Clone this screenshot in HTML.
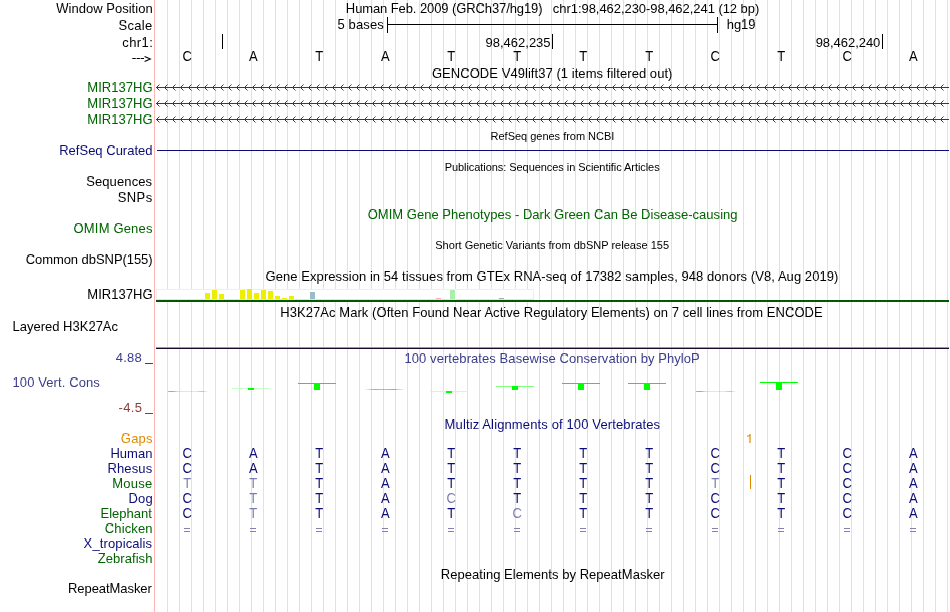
<!DOCTYPE html>
<html><head><meta charset="utf-8"><style>html,body{margin:0;padding:0;background:#fff;width:950px;height:612px;overflow:hidden}text{font-family:"Liberation Sans", sans-serif}</style></head>
<body><svg width="950" height="612" viewBox="0 0 950 612" style="display:block;will-change:transform;font-family:&quot;Liberation Sans&quot;, sans-serif"><rect x="0" y="0" width="950" height="612" fill="#fff"/>
<path d="M167.5 0V612 M179.5 0V612 M191.5 0V612 M203.5 0V612 M215.5 0V612 M227.5 0V612 M239.5 0V612 M251.5 0V612 M263.5 0V612 M275.5 0V612 M287.5 0V612 M299.5 0V612 M311.5 0V612 M323.5 0V612 M335.5 0V612 M347.5 0V612 M359.5 0V612 M371.5 0V612 M383.5 0V612 M395.5 0V612 M407.5 0V612 M419.5 0V612 M431.5 0V612 M443.5 0V612 M455.5 0V612 M467.5 0V612 M479.5 0V612 M491.5 0V612 M503.5 0V612 M515.5 0V612 M527.5 0V612 M539.5 0V612 M551.5 0V612 M563.5 0V612 M575.5 0V612 M587.5 0V612 M599.5 0V612 M611.5 0V612 M623.5 0V612 M635.5 0V612 M647.5 0V612 M659.5 0V612 M671.5 0V612 M683.5 0V612 M695.5 0V612 M707.5 0V612 M719.5 0V612 M731.5 0V612 M743.5 0V612 M755.5 0V612 M767.5 0V612 M779.5 0V612 M791.5 0V612 M803.5 0V612 M815.5 0V612 M827.5 0V612 M839.5 0V612 M851.5 0V612 M863.5 0V612 M875.5 0V612 M887.5 0V612 M899.5 0V612 M911.5 0V612 M923.5 0V612 M935.5 0V612 M947.5 0V612" stroke="#DDDDFF" stroke-width="1" fill="none"/>
<rect x="154" y="0" width="1" height="612" fill="#FFB4B4"/>
<clipPath id="lowinpos"><rect x="0" y="5" width="950" height="14"/></clipPath>
<clipPath id="hiwinpos"><rect x="0" y="-2" width="950" height="7"/></clipPath>
<g clip-path="url(#lowinpos)"><text x="56.31" y="13" font-size="13" fill="#000" textLength="96.33" lengthAdjust="spacing">Window Position</text></g>
<g clip-path="url(#hiwinpos)"><text x="56.31" y="13" font-size="13" fill="#000" textLength="96.33" lengthAdjust="spacing" transform="translate(0 -1)">Window Position</text></g>
<clipPath id="loscale"><rect x="0" y="22" width="950" height="14"/></clipPath>
<clipPath id="hiscale"><rect x="0" y="15" width="950" height="7"/></clipPath>
<g clip-path="url(#loscale)"><text x="118.43" y="30" font-size="13" fill="#000" textLength="33.86" lengthAdjust="spacing">Scale</text></g>
<g clip-path="url(#hiscale)"><text x="118.43" y="30" font-size="13" fill="#000" textLength="33.86" lengthAdjust="spacing" transform="translate(0 -1)">Scale</text></g>
<clipPath id="lochr1"><rect x="0" y="39" width="950" height="14"/></clipPath>
<clipPath id="hichr1"><rect x="0" y="32" width="950" height="7"/></clipPath>
<g clip-path="url(#lochr1)"><text x="122.36" y="47" font-size="13" fill="#000" textLength="30.44" lengthAdjust="spacing">chr1:</text></g>
<g clip-path="url(#hichr1)"><text x="122.36" y="47" font-size="13" fill="#000" textLength="30.44" lengthAdjust="spacing" transform="translate(0 -1)">chr1:</text></g>
<clipPath id="lomir1"><rect x="0" y="84" width="950" height="14"/></clipPath>
<clipPath id="himir1"><rect x="0" y="77" width="950" height="7"/></clipPath>
<g clip-path="url(#lomir1)"><text x="87.35" y="92" font-size="13" fill="#006400" textLength="65.20" lengthAdjust="spacing">MIR137HG</text></g>
<g clip-path="url(#himir1)"><text x="87.35" y="92" font-size="13" fill="#006400" textLength="65.20" lengthAdjust="spacing" transform="translate(0 -1)">MIR137HG</text></g>
<clipPath id="lomir2"><rect x="0" y="100" width="950" height="14"/></clipPath>
<clipPath id="himir2"><rect x="0" y="93" width="950" height="7"/></clipPath>
<g clip-path="url(#lomir2)"><text x="87.35" y="108" font-size="13" fill="#006400" textLength="65.20" lengthAdjust="spacing">MIR137HG</text></g>
<g clip-path="url(#himir2)"><text x="87.35" y="108" font-size="13" fill="#006400" textLength="65.20" lengthAdjust="spacing" transform="translate(0 -1)">MIR137HG</text></g>
<clipPath id="lomir3"><rect x="0" y="116" width="950" height="14"/></clipPath>
<clipPath id="himir3"><rect x="0" y="109" width="950" height="7"/></clipPath>
<g clip-path="url(#lomir3)"><text x="87.35" y="124" font-size="13" fill="#006400" textLength="65.20" lengthAdjust="spacing">MIR137HG</text></g>
<g clip-path="url(#himir3)"><text x="87.35" y="124" font-size="13" fill="#006400" textLength="65.20" lengthAdjust="spacing" transform="translate(0 -1)">MIR137HG</text></g>
<clipPath id="lorefcur"><rect x="0" y="147" width="950" height="14"/></clipPath>
<clipPath id="hirefcur"><rect x="0" y="140" width="950" height="7"/></clipPath>
<g clip-path="url(#lorefcur)"><text x="59.19" y="155" font-size="13" fill="#0C0C78" textLength="93.36" lengthAdjust="spacing">RefSeq Curated</text></g>
<g clip-path="url(#hirefcur)"><text x="59.19" y="155" font-size="13" fill="#0C0C78" textLength="93.36" lengthAdjust="spacing" transform="translate(0 -1)">RefSeq Curated</text></g>
<clipPath id="loseqs"><rect x="0" y="178" width="950" height="14"/></clipPath>
<clipPath id="hiseqs"><rect x="0" y="171" width="950" height="7"/></clipPath>
<g clip-path="url(#loseqs)"><text x="86.13" y="186" font-size="13" fill="#000" textLength="65.95" lengthAdjust="spacing">Sequences</text></g>
<g clip-path="url(#hiseqs)"><text x="86.13" y="186" font-size="13" fill="#000" textLength="65.95" lengthAdjust="spacing" transform="translate(0 -1)">Sequences</text></g>
<clipPath id="losnps"><rect x="0" y="194" width="950" height="14"/></clipPath>
<clipPath id="hisnps"><rect x="0" y="187" width="950" height="7"/></clipPath>
<g clip-path="url(#losnps)"><text x="117.72" y="202" font-size="13" fill="#000" textLength="34.42" lengthAdjust="spacing">SNPs</text></g>
<g clip-path="url(#hisnps)"><text x="117.72" y="202" font-size="13" fill="#000" textLength="34.42" lengthAdjust="spacing" transform="translate(0 -1)">SNPs</text></g>
<clipPath id="loomimg"><rect x="0" y="225" width="950" height="14"/></clipPath>
<clipPath id="hiomimg"><rect x="0" y="218" width="950" height="7"/></clipPath>
<g clip-path="url(#loomimg)"><text x="73.58" y="233" font-size="13" fill="#006400" textLength="78.80" lengthAdjust="spacing">OMIM Genes</text></g>
<g clip-path="url(#hiomimg)"><text x="73.58" y="233" font-size="13" fill="#006400" textLength="78.80" lengthAdjust="spacing" transform="translate(0 -1)">OMIM Genes</text></g>
<clipPath id="lodbsnp"><rect x="0" y="256" width="950" height="14"/></clipPath>
<clipPath id="hidbsnp"><rect x="0" y="249" width="950" height="7"/></clipPath>
<g clip-path="url(#lodbsnp)"><text x="25.63" y="264" font-size="13" fill="#000" textLength="127.00" lengthAdjust="spacing">Common dbSNP(155)</text></g>
<g clip-path="url(#hidbsnp)"><text x="25.63" y="264" font-size="13" fill="#000" textLength="127.00" lengthAdjust="spacing" transform="translate(0 -1)">Common dbSNP(155)</text></g>
<clipPath id="lomirblk"><rect x="0" y="291" width="950" height="14"/></clipPath>
<clipPath id="himirblk"><rect x="0" y="284" width="950" height="7"/></clipPath>
<g clip-path="url(#lomirblk)"><text x="87.30" y="299" font-size="13" fill="#000" textLength="65.33" lengthAdjust="spacing">MIR137HG</text></g>
<g clip-path="url(#himirblk)"><text x="87.30" y="299" font-size="13" fill="#000" textLength="65.33" lengthAdjust="spacing" transform="translate(0 -1)">MIR137HG</text></g>
<clipPath id="lolayered"><rect x="0" y="323" width="950" height="14"/></clipPath>
<clipPath id="hilayered"><rect x="0" y="316" width="950" height="7"/></clipPath>
<g clip-path="url(#lolayered)"><text x="12.47" y="331" font-size="13" fill="#000" textLength="105.57" lengthAdjust="spacing">Layered H3K27Ac</text></g>
<g clip-path="url(#hilayered)"><text x="12.47" y="331" font-size="13" fill="#000" textLength="105.57" lengthAdjust="spacing" transform="translate(0 -1)">Layered H3K27Ac</text></g>
<text x="115.69" y="362" font-size="13" fill="#3C3C8C" textLength="26.06" lengthAdjust="spacing">4.88</text>
<clipPath id="lovcons"><rect x="0" y="379" width="950" height="14"/></clipPath>
<clipPath id="hivcons"><rect x="0" y="372" width="950" height="7"/></clipPath>
<g clip-path="url(#lovcons)"><text x="12.47" y="387" font-size="13" fill="#3C3C8C" textLength="87.35" lengthAdjust="spacing">100 Vert. Cons</text></g>
<g clip-path="url(#hivcons)"><text x="12.47" y="387" font-size="13" fill="#3C3C8C" textLength="87.35" lengthAdjust="spacing" transform="translate(0 -1)">100 Vert. Cons</text></g>
<text x="118.49" y="412" font-size="13" fill="#8C3C3C" textLength="23.54" lengthAdjust="spacing">-4.5</text>
<clipPath id="logaps"><rect x="0" y="435" width="950" height="14"/></clipPath>
<clipPath id="higaps"><rect x="0" y="428" width="950" height="7"/></clipPath>
<g clip-path="url(#logaps)"><text x="120.76" y="443" font-size="13" fill="#E08A00" textLength="31.82" lengthAdjust="spacing">Gaps</text></g>
<g clip-path="url(#higaps)"><text x="120.76" y="443" font-size="13" fill="#E08A00" textLength="31.82" lengthAdjust="spacing" transform="translate(0 -1)">Gaps</text></g>
<clipPath id="lohuman"><rect x="0" y="450" width="950" height="14"/></clipPath>
<clipPath id="hihuman"><rect x="0" y="443" width="950" height="7"/></clipPath>
<g clip-path="url(#lohuman)"><text x="110.42" y="458" font-size="13" fill="#0C0C78" textLength="42.07" lengthAdjust="spacing">Human</text></g>
<g clip-path="url(#hihuman)"><text x="110.42" y="458" font-size="13" fill="#0C0C78" textLength="42.07" lengthAdjust="spacing" transform="translate(0 -1)">Human</text></g>
<clipPath id="lorhesus"><rect x="0" y="465" width="950" height="14"/></clipPath>
<clipPath id="hirhesus"><rect x="0" y="458" width="950" height="7"/></clipPath>
<g clip-path="url(#lorhesus)"><text x="107.47" y="473" font-size="13" fill="#0C0C78" textLength="44.71" lengthAdjust="spacing">Rhesus</text></g>
<g clip-path="url(#hirhesus)"><text x="107.47" y="473" font-size="13" fill="#0C0C78" textLength="44.71" lengthAdjust="spacing" transform="translate(0 -1)">Rhesus</text></g>
<clipPath id="lomouse"><rect x="0" y="480" width="950" height="14"/></clipPath>
<clipPath id="himouse"><rect x="0" y="473" width="950" height="7"/></clipPath>
<g clip-path="url(#lomouse)"><text x="112.17" y="488" font-size="13" fill="#006400" textLength="39.97" lengthAdjust="spacing">Mouse</text></g>
<g clip-path="url(#himouse)"><text x="112.17" y="488" font-size="13" fill="#006400" textLength="39.97" lengthAdjust="spacing" transform="translate(0 -1)">Mouse</text></g>
<clipPath id="lodog"><rect x="0" y="495" width="950" height="14"/></clipPath>
<clipPath id="hidog"><rect x="0" y="488" width="950" height="7"/></clipPath>
<g clip-path="url(#lodog)"><text x="128.47" y="503" font-size="13" fill="#0C0C78" textLength="24.16" lengthAdjust="spacing">Dog</text></g>
<g clip-path="url(#hidog)"><text x="128.47" y="503" font-size="13" fill="#0C0C78" textLength="24.16" lengthAdjust="spacing" transform="translate(0 -1)">Dog</text></g>
<clipPath id="loeleph"><rect x="0" y="510" width="950" height="14"/></clipPath>
<clipPath id="hieleph"><rect x="0" y="503" width="950" height="7"/></clipPath>
<g clip-path="url(#loeleph)"><text x="100.44" y="518" font-size="13" fill="#006400" textLength="51.48" lengthAdjust="spacing">Elephant</text></g>
<g clip-path="url(#hieleph)"><text x="100.44" y="518" font-size="13" fill="#006400" textLength="51.48" lengthAdjust="spacing" transform="translate(0 -1)">Elephant</text></g>
<clipPath id="lochick"><rect x="0" y="525" width="950" height="14"/></clipPath>
<clipPath id="hichick"><rect x="0" y="518" width="950" height="7"/></clipPath>
<g clip-path="url(#lochick)"><text x="104.76" y="533" font-size="13" fill="#006400" textLength="47.80" lengthAdjust="spacing">Chicken</text></g>
<g clip-path="url(#hichick)"><text x="104.76" y="533" font-size="13" fill="#006400" textLength="47.80" lengthAdjust="spacing" transform="translate(0 -1)">Chicken</text></g>
<clipPath id="loxtrop"><rect x="0" y="540" width="950" height="14"/></clipPath>
<clipPath id="hixtrop"><rect x="0" y="533" width="950" height="7"/></clipPath>
<g clip-path="url(#loxtrop)"><text x="83.62" y="548" font-size="13" fill="#0C0C78" textLength="68.49" lengthAdjust="spacing">X_tropicalis</text></g>
<g clip-path="url(#hixtrop)"><text x="83.62" y="548" font-size="13" fill="#0C0C78" textLength="68.49" lengthAdjust="spacing" transform="translate(0 -1)">X_tropicalis</text></g>
<clipPath id="lozebra"><rect x="0" y="555" width="950" height="14"/></clipPath>
<clipPath id="hizebra"><rect x="0" y="548" width="950" height="7"/></clipPath>
<g clip-path="url(#lozebra)"><text x="97.69" y="563" font-size="13" fill="#006400" textLength="54.71" lengthAdjust="spacing">Zebrafish</text></g>
<g clip-path="url(#hizebra)"><text x="97.69" y="563" font-size="13" fill="#006400" textLength="54.71" lengthAdjust="spacing" transform="translate(0 -1)">Zebrafish</text></g>
<clipPath id="lorepm"><rect x="0" y="585" width="950" height="14"/></clipPath>
<clipPath id="hirepm"><rect x="0" y="578" width="950" height="7"/></clipPath>
<g clip-path="url(#lorepm)"><text x="68.03" y="593" font-size="13" fill="#000" textLength="83.78" lengthAdjust="spacing">RepeatMasker</text></g>
<g clip-path="url(#hirepm)"><text x="68.03" y="593" font-size="13" fill="#000" textLength="83.78" lengthAdjust="spacing" transform="translate(0 -1)">RepeatMasker</text></g>
<clipPath id="lohdr1"><rect x="0" y="5" width="950" height="14"/></clipPath>
<clipPath id="hihdr1"><rect x="0" y="-2" width="950" height="7"/></clipPath>
<g clip-path="url(#lohdr1)"><text x="345.84" y="13" font-size="13" fill="#000" textLength="196.70" lengthAdjust="spacing">Human Feb. 2009 (GRCh37/hg19)</text></g>
<g clip-path="url(#hihdr1)"><text x="345.84" y="13" font-size="13" fill="#000" textLength="196.70" lengthAdjust="spacing" transform="translate(0 -1)">Human Feb. 2009 (GRCh37/hg19)</text></g>
<text x="552.82" y="13" font-size="13" fill="#000" textLength="206.46" lengthAdjust="spacing">chr1:98,462,230-98,462,241 (12 bp)</text>
<clipPath id="lobases5"><rect x="0" y="21" width="950" height="14"/></clipPath>
<clipPath id="hibases5"><rect x="0" y="14" width="950" height="7"/></clipPath>
<g clip-path="url(#lobases5)"><text x="337.41" y="29" font-size="13" fill="#000" textLength="46.40" lengthAdjust="spacing">5 bases</text></g>
<g clip-path="url(#hibases5)"><text x="337.41" y="29" font-size="13" fill="#000" textLength="46.40" lengthAdjust="spacing" transform="translate(0 -1)">5 bases</text></g>
<clipPath id="lohg19"><rect x="0" y="21" width="950" height="14"/></clipPath>
<clipPath id="hihg19"><rect x="0" y="14" width="950" height="7"/></clipPath>
<g clip-path="url(#lohg19)"><text x="726.80" y="29" font-size="13" fill="#000" textLength="28.72" lengthAdjust="spacing">hg19</text></g>
<g clip-path="url(#hihg19)"><text x="726.80" y="29" font-size="13" fill="#000" textLength="28.72" lengthAdjust="spacing" transform="translate(0 -1)">hg19</text></g>
<text x="485.55" y="47" font-size="13" fill="#000" textLength="65.01" lengthAdjust="spacing">98,462,235</text>
<text x="815.67" y="47" font-size="13" fill="#000" textLength="64.67" lengthAdjust="spacing">98,462,240</text>
<clipPath id="logencode"><rect x="0" y="70" width="950" height="14"/></clipPath>
<clipPath id="higencode"><rect x="0" y="63" width="950" height="7"/></clipPath>
<g clip-path="url(#logencode)"><text x="431.89" y="78" font-size="13" fill="#000" textLength="240.56" lengthAdjust="spacing">GENCODE V49lift37 (1 items filtered out)</text></g>
<g clip-path="url(#higencode)"><text x="431.89" y="78" font-size="13" fill="#000" textLength="240.56" lengthAdjust="spacing" transform="translate(0 -1)">GENCODE V49lift37 (1 items filtered out)</text></g>
<text x="490.55" y="140" font-size="11" fill="#000" textLength="123.82" lengthAdjust="spacing">RefSeq genes from NCBI</text>
<text x="444.66" y="171" font-size="11" fill="#000" textLength="215.02" lengthAdjust="spacing">Publications: Sequences in Scientific Articles</text>
<clipPath id="loomim"><rect x="0" y="211" width="950" height="14"/></clipPath>
<clipPath id="hiomim"><rect x="0" y="204" width="950" height="7"/></clipPath>
<g clip-path="url(#loomim)"><text x="367.65" y="219" font-size="13" fill="#006400" textLength="369.88" lengthAdjust="spacing">OMIM Gene Phenotypes - Dark Green Can Be Disease-causing</text></g>
<g clip-path="url(#hiomim)"><text x="367.65" y="219" font-size="13" fill="#006400" textLength="369.88" lengthAdjust="spacing" transform="translate(0 -1)">OMIM Gene Phenotypes - Dark Green Can Be Disease-causing</text></g>
<text x="435.27" y="249" font-size="11" fill="#000" textLength="233.79" lengthAdjust="spacing">Short Genetic Variants from dbSNP release 155</text>
<clipPath id="logtex"><rect x="0" y="273" width="950" height="14"/></clipPath>
<clipPath id="higtex"><rect x="0" y="266" width="950" height="7"/></clipPath>
<g clip-path="url(#logtex)"><text x="265.60" y="281" font-size="13" fill="#000" textLength="572.76" lengthAdjust="spacing">Gene Expression in 54 tissues from GTEx RNA-seq of 17382 samples, 948 donors (V8, Aug 2019)</text></g>
<g clip-path="url(#higtex)"><text x="265.60" y="281" font-size="13" fill="#000" textLength="572.76" lengthAdjust="spacing" transform="translate(0 -1)">Gene Expression in 54 tissues from GTEx RNA-seq of 17382 samples, 948 donors (V8, Aug 2019)</text></g>
<clipPath id="loh3k"><rect x="0" y="309" width="950" height="14"/></clipPath>
<clipPath id="hih3k"><rect x="0" y="302" width="950" height="7"/></clipPath>
<g clip-path="url(#loh3k)"><text x="280.30" y="317" font-size="13" fill="#000" textLength="542.37" lengthAdjust="spacing">H3K27Ac Mark (Often Found Near Active Regulatory Elements) on 7 cell lines from ENCODE</text></g>
<g clip-path="url(#hih3k)"><text x="280.30" y="317" font-size="13" fill="#000" textLength="542.37" lengthAdjust="spacing" transform="translate(0 -1)">H3K27Ac Mark (Often Found Near Active Regulatory Elements) on 7 cell lines from ENCODE</text></g>
<clipPath id="lophylop"><rect x="0" y="355" width="950" height="14"/></clipPath>
<clipPath id="hiphylop"><rect x="0" y="348" width="950" height="7"/></clipPath>
<g clip-path="url(#lophylop)"><text x="404.47" y="363" font-size="13" fill="#3C3C8C" textLength="295.27" lengthAdjust="spacing">100 vertebrates Basewise Conservation by PhyloP</text></g>
<g clip-path="url(#hiphylop)"><text x="404.47" y="363" font-size="13" fill="#3C3C8C" textLength="295.27" lengthAdjust="spacing" transform="translate(0 -1)">100 vertebrates Basewise Conservation by PhyloP</text></g>
<clipPath id="lomultiz"><rect x="0" y="421" width="950" height="14"/></clipPath>
<clipPath id="himultiz"><rect x="0" y="414" width="950" height="7"/></clipPath>
<g clip-path="url(#lomultiz)"><text x="444.58" y="429" font-size="13" fill="#0C0C78" textLength="215.53" lengthAdjust="spacing">Multiz Alignments of 100 Vertebrates</text></g>
<g clip-path="url(#himultiz)"><text x="444.58" y="429" font-size="13" fill="#0C0C78" textLength="215.53" lengthAdjust="spacing" transform="translate(0 -1)">Multiz Alignments of 100 Vertebrates</text></g>
<clipPath id="lormsk"><rect x="0" y="571" width="950" height="14"/></clipPath>
<clipPath id="hirmsk"><rect x="0" y="564" width="950" height="7"/></clipPath>
<g clip-path="url(#lormsk)"><text x="440.84" y="579" font-size="13" fill="#000" textLength="223.74" lengthAdjust="spacing">Repeating Elements by RepeatMasker</text></g>
<g clip-path="url(#hirmsk)"><text x="440.84" y="579" font-size="13" fill="#000" textLength="223.74" lengthAdjust="spacing" transform="translate(0 -1)">Repeating Elements by RepeatMasker</text></g>
<path d="M132.3 58.5H135.8M136.6 58.5H139.9M140.7 58.5H144" stroke="#000" stroke-width="1" fill="none"/>
<path d="M144.6 56.4L150.3 58.9L144.6 61.4" stroke="#000" stroke-width="1.1" fill="none"/>
<rect x="145" y="363" width="8" height="1" fill="#3C3C8C"/>
<rect x="145" y="413" width="8" height="1" fill="#8C3C3C"/>
<path d="M387.5 17V33M717.5 17V33M387 24.5H718" stroke="#000" stroke-width="1" fill="none"/>
<path d="M222.5 34V49M552.5 34V49M882.5 34V49" stroke="#000" stroke-width="1" fill="none"/>
<text transform="translate(187.30 61) scale(1 1.11)" x="0" y="0" font-size="13" fill="#000" text-anchor="middle">C</text>
<text transform="translate(253.30 61) scale(1 1.11)" x="0" y="0" font-size="13" fill="#000" text-anchor="middle">A</text>
<text transform="translate(319.30 61) scale(1 1.11)" x="0" y="0" font-size="13" fill="#000" text-anchor="middle">T</text>
<text transform="translate(385.30 61) scale(1 1.11)" x="0" y="0" font-size="13" fill="#000" text-anchor="middle">A</text>
<text transform="translate(451.30 61) scale(1 1.11)" x="0" y="0" font-size="13" fill="#000" text-anchor="middle">T</text>
<text transform="translate(517.30 61) scale(1 1.11)" x="0" y="0" font-size="13" fill="#000" text-anchor="middle">T</text>
<text transform="translate(583.30 61) scale(1 1.11)" x="0" y="0" font-size="13" fill="#000" text-anchor="middle">T</text>
<text transform="translate(649.30 61) scale(1 1.11)" x="0" y="0" font-size="13" fill="#000" text-anchor="middle">T</text>
<text transform="translate(715.30 61) scale(1 1.11)" x="0" y="0" font-size="13" fill="#000" text-anchor="middle">C</text>
<text transform="translate(781.30 61) scale(1 1.11)" x="0" y="0" font-size="13" fill="#000" text-anchor="middle">T</text>
<text transform="translate(847.30 61) scale(1 1.11)" x="0" y="0" font-size="13" fill="#000" text-anchor="middle">C</text>
<text transform="translate(913.30 61) scale(1 1.11)" x="0" y="0" font-size="13" fill="#000" text-anchor="middle">A</text>
<path d="M156 87.5H949 M159.5 84.5L156.5 87.5L159.5 90.5 M167.5 84.5L164.5 87.5L167.5 90.5 M175.5 84.5L172.5 87.5L175.5 90.5 M183.5 84.5L180.5 87.5L183.5 90.5 M191.5 84.5L188.5 87.5L191.5 90.5 M199.5 84.5L196.5 87.5L199.5 90.5 M207.5 84.5L204.5 87.5L207.5 90.5 M215.5 84.5L212.5 87.5L215.5 90.5 M223.5 84.5L220.5 87.5L223.5 90.5 M231.5 84.5L228.5 87.5L231.5 90.5 M239.5 84.5L236.5 87.5L239.5 90.5 M247.5 84.5L244.5 87.5L247.5 90.5 M255.5 84.5L252.5 87.5L255.5 90.5 M263.5 84.5L260.5 87.5L263.5 90.5 M271.5 84.5L268.5 87.5L271.5 90.5 M279.5 84.5L276.5 87.5L279.5 90.5 M287.5 84.5L284.5 87.5L287.5 90.5 M295.5 84.5L292.5 87.5L295.5 90.5 M303.5 84.5L300.5 87.5L303.5 90.5 M311.5 84.5L308.5 87.5L311.5 90.5 M319.5 84.5L316.5 87.5L319.5 90.5 M327.5 84.5L324.5 87.5L327.5 90.5 M335.5 84.5L332.5 87.5L335.5 90.5 M343.5 84.5L340.5 87.5L343.5 90.5 M351.5 84.5L348.5 87.5L351.5 90.5 M359.5 84.5L356.5 87.5L359.5 90.5 M367.5 84.5L364.5 87.5L367.5 90.5 M375.5 84.5L372.5 87.5L375.5 90.5 M383.5 84.5L380.5 87.5L383.5 90.5 M391.5 84.5L388.5 87.5L391.5 90.5 M399.5 84.5L396.5 87.5L399.5 90.5 M407.5 84.5L404.5 87.5L407.5 90.5 M415.5 84.5L412.5 87.5L415.5 90.5 M423.5 84.5L420.5 87.5L423.5 90.5 M431.5 84.5L428.5 87.5L431.5 90.5 M439.5 84.5L436.5 87.5L439.5 90.5 M447.5 84.5L444.5 87.5L447.5 90.5 M455.5 84.5L452.5 87.5L455.5 90.5 M463.5 84.5L460.5 87.5L463.5 90.5 M471.5 84.5L468.5 87.5L471.5 90.5 M479.5 84.5L476.5 87.5L479.5 90.5 M487.5 84.5L484.5 87.5L487.5 90.5 M495.5 84.5L492.5 87.5L495.5 90.5 M503.5 84.5L500.5 87.5L503.5 90.5 M511.5 84.5L508.5 87.5L511.5 90.5 M519.5 84.5L516.5 87.5L519.5 90.5 M527.5 84.5L524.5 87.5L527.5 90.5 M535.5 84.5L532.5 87.5L535.5 90.5 M543.5 84.5L540.5 87.5L543.5 90.5 M551.5 84.5L548.5 87.5L551.5 90.5 M559.5 84.5L556.5 87.5L559.5 90.5 M567.5 84.5L564.5 87.5L567.5 90.5 M575.5 84.5L572.5 87.5L575.5 90.5 M583.5 84.5L580.5 87.5L583.5 90.5 M591.5 84.5L588.5 87.5L591.5 90.5 M599.5 84.5L596.5 87.5L599.5 90.5 M607.5 84.5L604.5 87.5L607.5 90.5 M615.5 84.5L612.5 87.5L615.5 90.5 M623.5 84.5L620.5 87.5L623.5 90.5 M631.5 84.5L628.5 87.5L631.5 90.5 M639.5 84.5L636.5 87.5L639.5 90.5 M647.5 84.5L644.5 87.5L647.5 90.5 M655.5 84.5L652.5 87.5L655.5 90.5 M663.5 84.5L660.5 87.5L663.5 90.5 M671.5 84.5L668.5 87.5L671.5 90.5 M679.5 84.5L676.5 87.5L679.5 90.5 M687.5 84.5L684.5 87.5L687.5 90.5 M695.5 84.5L692.5 87.5L695.5 90.5 M703.5 84.5L700.5 87.5L703.5 90.5 M711.5 84.5L708.5 87.5L711.5 90.5 M719.5 84.5L716.5 87.5L719.5 90.5 M727.5 84.5L724.5 87.5L727.5 90.5 M735.5 84.5L732.5 87.5L735.5 90.5 M743.5 84.5L740.5 87.5L743.5 90.5 M751.5 84.5L748.5 87.5L751.5 90.5 M759.5 84.5L756.5 87.5L759.5 90.5 M767.5 84.5L764.5 87.5L767.5 90.5 M775.5 84.5L772.5 87.5L775.5 90.5 M783.5 84.5L780.5 87.5L783.5 90.5 M791.5 84.5L788.5 87.5L791.5 90.5 M799.5 84.5L796.5 87.5L799.5 90.5 M807.5 84.5L804.5 87.5L807.5 90.5 M815.5 84.5L812.5 87.5L815.5 90.5 M823.5 84.5L820.5 87.5L823.5 90.5 M831.5 84.5L828.5 87.5L831.5 90.5 M839.5 84.5L836.5 87.5L839.5 90.5 M847.5 84.5L844.5 87.5L847.5 90.5 M855.5 84.5L852.5 87.5L855.5 90.5 M863.5 84.5L860.5 87.5L863.5 90.5 M871.5 84.5L868.5 87.5L871.5 90.5 M879.5 84.5L876.5 87.5L879.5 90.5 M887.5 84.5L884.5 87.5L887.5 90.5 M895.5 84.5L892.5 87.5L895.5 90.5 M903.5 84.5L900.5 87.5L903.5 90.5 M911.5 84.5L908.5 87.5L911.5 90.5 M919.5 84.5L916.5 87.5L919.5 90.5 M927.5 84.5L924.5 87.5L927.5 90.5 M935.5 84.5L932.5 87.5L935.5 90.5 M943.5 84.5L940.5 87.5L943.5 90.5" stroke="#006400" stroke-width="1" fill="none"/>
<path d="M156 103.5H949 M159.5 100.5L156.5 103.5L159.5 106.5 M167.5 100.5L164.5 103.5L167.5 106.5 M175.5 100.5L172.5 103.5L175.5 106.5 M183.5 100.5L180.5 103.5L183.5 106.5 M191.5 100.5L188.5 103.5L191.5 106.5 M199.5 100.5L196.5 103.5L199.5 106.5 M207.5 100.5L204.5 103.5L207.5 106.5 M215.5 100.5L212.5 103.5L215.5 106.5 M223.5 100.5L220.5 103.5L223.5 106.5 M231.5 100.5L228.5 103.5L231.5 106.5 M239.5 100.5L236.5 103.5L239.5 106.5 M247.5 100.5L244.5 103.5L247.5 106.5 M255.5 100.5L252.5 103.5L255.5 106.5 M263.5 100.5L260.5 103.5L263.5 106.5 M271.5 100.5L268.5 103.5L271.5 106.5 M279.5 100.5L276.5 103.5L279.5 106.5 M287.5 100.5L284.5 103.5L287.5 106.5 M295.5 100.5L292.5 103.5L295.5 106.5 M303.5 100.5L300.5 103.5L303.5 106.5 M311.5 100.5L308.5 103.5L311.5 106.5 M319.5 100.5L316.5 103.5L319.5 106.5 M327.5 100.5L324.5 103.5L327.5 106.5 M335.5 100.5L332.5 103.5L335.5 106.5 M343.5 100.5L340.5 103.5L343.5 106.5 M351.5 100.5L348.5 103.5L351.5 106.5 M359.5 100.5L356.5 103.5L359.5 106.5 M367.5 100.5L364.5 103.5L367.5 106.5 M375.5 100.5L372.5 103.5L375.5 106.5 M383.5 100.5L380.5 103.5L383.5 106.5 M391.5 100.5L388.5 103.5L391.5 106.5 M399.5 100.5L396.5 103.5L399.5 106.5 M407.5 100.5L404.5 103.5L407.5 106.5 M415.5 100.5L412.5 103.5L415.5 106.5 M423.5 100.5L420.5 103.5L423.5 106.5 M431.5 100.5L428.5 103.5L431.5 106.5 M439.5 100.5L436.5 103.5L439.5 106.5 M447.5 100.5L444.5 103.5L447.5 106.5 M455.5 100.5L452.5 103.5L455.5 106.5 M463.5 100.5L460.5 103.5L463.5 106.5 M471.5 100.5L468.5 103.5L471.5 106.5 M479.5 100.5L476.5 103.5L479.5 106.5 M487.5 100.5L484.5 103.5L487.5 106.5 M495.5 100.5L492.5 103.5L495.5 106.5 M503.5 100.5L500.5 103.5L503.5 106.5 M511.5 100.5L508.5 103.5L511.5 106.5 M519.5 100.5L516.5 103.5L519.5 106.5 M527.5 100.5L524.5 103.5L527.5 106.5 M535.5 100.5L532.5 103.5L535.5 106.5 M543.5 100.5L540.5 103.5L543.5 106.5 M551.5 100.5L548.5 103.5L551.5 106.5 M559.5 100.5L556.5 103.5L559.5 106.5 M567.5 100.5L564.5 103.5L567.5 106.5 M575.5 100.5L572.5 103.5L575.5 106.5 M583.5 100.5L580.5 103.5L583.5 106.5 M591.5 100.5L588.5 103.5L591.5 106.5 M599.5 100.5L596.5 103.5L599.5 106.5 M607.5 100.5L604.5 103.5L607.5 106.5 M615.5 100.5L612.5 103.5L615.5 106.5 M623.5 100.5L620.5 103.5L623.5 106.5 M631.5 100.5L628.5 103.5L631.5 106.5 M639.5 100.5L636.5 103.5L639.5 106.5 M647.5 100.5L644.5 103.5L647.5 106.5 M655.5 100.5L652.5 103.5L655.5 106.5 M663.5 100.5L660.5 103.5L663.5 106.5 M671.5 100.5L668.5 103.5L671.5 106.5 M679.5 100.5L676.5 103.5L679.5 106.5 M687.5 100.5L684.5 103.5L687.5 106.5 M695.5 100.5L692.5 103.5L695.5 106.5 M703.5 100.5L700.5 103.5L703.5 106.5 M711.5 100.5L708.5 103.5L711.5 106.5 M719.5 100.5L716.5 103.5L719.5 106.5 M727.5 100.5L724.5 103.5L727.5 106.5 M735.5 100.5L732.5 103.5L735.5 106.5 M743.5 100.5L740.5 103.5L743.5 106.5 M751.5 100.5L748.5 103.5L751.5 106.5 M759.5 100.5L756.5 103.5L759.5 106.5 M767.5 100.5L764.5 103.5L767.5 106.5 M775.5 100.5L772.5 103.5L775.5 106.5 M783.5 100.5L780.5 103.5L783.5 106.5 M791.5 100.5L788.5 103.5L791.5 106.5 M799.5 100.5L796.5 103.5L799.5 106.5 M807.5 100.5L804.5 103.5L807.5 106.5 M815.5 100.5L812.5 103.5L815.5 106.5 M823.5 100.5L820.5 103.5L823.5 106.5 M831.5 100.5L828.5 103.5L831.5 106.5 M839.5 100.5L836.5 103.5L839.5 106.5 M847.5 100.5L844.5 103.5L847.5 106.5 M855.5 100.5L852.5 103.5L855.5 106.5 M863.5 100.5L860.5 103.5L863.5 106.5 M871.5 100.5L868.5 103.5L871.5 106.5 M879.5 100.5L876.5 103.5L879.5 106.5 M887.5 100.5L884.5 103.5L887.5 106.5 M895.5 100.5L892.5 103.5L895.5 106.5 M903.5 100.5L900.5 103.5L903.5 106.5 M911.5 100.5L908.5 103.5L911.5 106.5 M919.5 100.5L916.5 103.5L919.5 106.5 M927.5 100.5L924.5 103.5L927.5 106.5 M935.5 100.5L932.5 103.5L935.5 106.5 M943.5 100.5L940.5 103.5L943.5 106.5" stroke="#006400" stroke-width="1" fill="none"/>
<path d="M156 119.5H949 M159.5 116.5L156.5 119.5L159.5 122.5 M167.5 116.5L164.5 119.5L167.5 122.5 M175.5 116.5L172.5 119.5L175.5 122.5 M183.5 116.5L180.5 119.5L183.5 122.5 M191.5 116.5L188.5 119.5L191.5 122.5 M199.5 116.5L196.5 119.5L199.5 122.5 M207.5 116.5L204.5 119.5L207.5 122.5 M215.5 116.5L212.5 119.5L215.5 122.5 M223.5 116.5L220.5 119.5L223.5 122.5 M231.5 116.5L228.5 119.5L231.5 122.5 M239.5 116.5L236.5 119.5L239.5 122.5 M247.5 116.5L244.5 119.5L247.5 122.5 M255.5 116.5L252.5 119.5L255.5 122.5 M263.5 116.5L260.5 119.5L263.5 122.5 M271.5 116.5L268.5 119.5L271.5 122.5 M279.5 116.5L276.5 119.5L279.5 122.5 M287.5 116.5L284.5 119.5L287.5 122.5 M295.5 116.5L292.5 119.5L295.5 122.5 M303.5 116.5L300.5 119.5L303.5 122.5 M311.5 116.5L308.5 119.5L311.5 122.5 M319.5 116.5L316.5 119.5L319.5 122.5 M327.5 116.5L324.5 119.5L327.5 122.5 M335.5 116.5L332.5 119.5L335.5 122.5 M343.5 116.5L340.5 119.5L343.5 122.5 M351.5 116.5L348.5 119.5L351.5 122.5 M359.5 116.5L356.5 119.5L359.5 122.5 M367.5 116.5L364.5 119.5L367.5 122.5 M375.5 116.5L372.5 119.5L375.5 122.5 M383.5 116.5L380.5 119.5L383.5 122.5 M391.5 116.5L388.5 119.5L391.5 122.5 M399.5 116.5L396.5 119.5L399.5 122.5 M407.5 116.5L404.5 119.5L407.5 122.5 M415.5 116.5L412.5 119.5L415.5 122.5 M423.5 116.5L420.5 119.5L423.5 122.5 M431.5 116.5L428.5 119.5L431.5 122.5 M439.5 116.5L436.5 119.5L439.5 122.5 M447.5 116.5L444.5 119.5L447.5 122.5 M455.5 116.5L452.5 119.5L455.5 122.5 M463.5 116.5L460.5 119.5L463.5 122.5 M471.5 116.5L468.5 119.5L471.5 122.5 M479.5 116.5L476.5 119.5L479.5 122.5 M487.5 116.5L484.5 119.5L487.5 122.5 M495.5 116.5L492.5 119.5L495.5 122.5 M503.5 116.5L500.5 119.5L503.5 122.5 M511.5 116.5L508.5 119.5L511.5 122.5 M519.5 116.5L516.5 119.5L519.5 122.5 M527.5 116.5L524.5 119.5L527.5 122.5 M535.5 116.5L532.5 119.5L535.5 122.5 M543.5 116.5L540.5 119.5L543.5 122.5 M551.5 116.5L548.5 119.5L551.5 122.5 M559.5 116.5L556.5 119.5L559.5 122.5 M567.5 116.5L564.5 119.5L567.5 122.5 M575.5 116.5L572.5 119.5L575.5 122.5 M583.5 116.5L580.5 119.5L583.5 122.5 M591.5 116.5L588.5 119.5L591.5 122.5 M599.5 116.5L596.5 119.5L599.5 122.5 M607.5 116.5L604.5 119.5L607.5 122.5 M615.5 116.5L612.5 119.5L615.5 122.5 M623.5 116.5L620.5 119.5L623.5 122.5 M631.5 116.5L628.5 119.5L631.5 122.5 M639.5 116.5L636.5 119.5L639.5 122.5 M647.5 116.5L644.5 119.5L647.5 122.5 M655.5 116.5L652.5 119.5L655.5 122.5 M663.5 116.5L660.5 119.5L663.5 122.5 M671.5 116.5L668.5 119.5L671.5 122.5 M679.5 116.5L676.5 119.5L679.5 122.5 M687.5 116.5L684.5 119.5L687.5 122.5 M695.5 116.5L692.5 119.5L695.5 122.5 M703.5 116.5L700.5 119.5L703.5 122.5 M711.5 116.5L708.5 119.5L711.5 122.5 M719.5 116.5L716.5 119.5L719.5 122.5 M727.5 116.5L724.5 119.5L727.5 122.5 M735.5 116.5L732.5 119.5L735.5 122.5 M743.5 116.5L740.5 119.5L743.5 122.5 M751.5 116.5L748.5 119.5L751.5 122.5 M759.5 116.5L756.5 119.5L759.5 122.5 M767.5 116.5L764.5 119.5L767.5 122.5 M775.5 116.5L772.5 119.5L775.5 122.5 M783.5 116.5L780.5 119.5L783.5 122.5 M791.5 116.5L788.5 119.5L791.5 122.5 M799.5 116.5L796.5 119.5L799.5 122.5 M807.5 116.5L804.5 119.5L807.5 122.5 M815.5 116.5L812.5 119.5L815.5 122.5 M823.5 116.5L820.5 119.5L823.5 122.5 M831.5 116.5L828.5 119.5L831.5 122.5 M839.5 116.5L836.5 119.5L839.5 122.5 M847.5 116.5L844.5 119.5L847.5 122.5 M855.5 116.5L852.5 119.5L855.5 122.5 M863.5 116.5L860.5 119.5L863.5 122.5 M871.5 116.5L868.5 119.5L871.5 122.5 M879.5 116.5L876.5 119.5L879.5 122.5 M887.5 116.5L884.5 119.5L887.5 122.5 M895.5 116.5L892.5 119.5L895.5 122.5 M903.5 116.5L900.5 119.5L903.5 122.5 M911.5 116.5L908.5 119.5L911.5 122.5 M919.5 116.5L916.5 119.5L919.5 122.5 M927.5 116.5L924.5 119.5L927.5 122.5 M935.5 116.5L932.5 119.5L935.5 122.5 M943.5 116.5L940.5 119.5L943.5 122.5" stroke="#006400" stroke-width="1" fill="none"/>
<rect x="157" y="150" width="792" height="1" fill="#0C0C78"/>
<rect x="156.5" y="289.5" width="377" height="10" fill="#fff" stroke="#EEEEEE" stroke-width="1"/>
<rect x="205" y="293" width="5" height="6" fill="#EEEE00"/>
<rect x="212" y="290" width="5" height="9" fill="#EEEE00"/>
<rect x="219" y="294" width="5" height="5" fill="#EEEE00"/>
<rect x="240" y="290" width="5" height="9" fill="#EEEE00"/>
<rect x="247" y="289" width="5" height="10" fill="#EEEE00"/>
<rect x="254" y="293" width="5" height="6" fill="#EEEE00"/>
<rect x="261" y="290" width="5" height="9" fill="#EEEE00"/>
<rect x="268" y="291" width="5" height="8" fill="#EEEE00"/>
<rect x="275" y="296" width="5" height="3" fill="#EEEE00"/>
<rect x="282" y="298" width="5" height="1" fill="#EEEE00"/>
<rect x="289" y="296" width="5" height="3" fill="#EEEE00"/>
<rect x="310" y="292" width="5" height="7" fill="#99BBCC"/>
<rect x="436" y="298" width="5" height="1" fill="#FFAABB"/>
<rect x="450" y="290" width="5" height="9" fill="#AAEEAA"/>
<rect x="499" y="298" width="5" height="1" fill="#AAAAAA"/>
<rect x="156" y="299" width="378" height="1" fill="#E6E0E6"/>
<rect x="156" y="300" width="793" height="2" fill="#005A00"/>
<rect x="156" y="347" width="793" height="1" fill="#80B080"/>
<rect x="156" y="348" width="793" height="1" fill="#1A0828"/>
<defs><linearGradient id="ol" x1="0" x2="1"><stop offset="0" stop-color="#B4A814" stop-opacity="0.75"/><stop offset="0.12" stop-color="#B4A814" stop-opacity="0.9"/><stop offset="0.25" stop-color="#B4A814" stop-opacity="0.3"/><stop offset="0.7" stop-color="#B4A814" stop-opacity="0.25"/><stop offset="0.85" stop-color="#B4A814" stop-opacity="0.6"/><stop offset="1" stop-color="#B4A814" stop-opacity="0"/></linearGradient><linearGradient id="rd" x1="0" x2="1"><stop offset="0" stop-color="#FF3C3C" stop-opacity="0"/><stop offset="0.25" stop-color="#FF3C3C" stop-opacity="0.6"/><stop offset="0.5" stop-color="#FF3C3C" stop-opacity="0.5"/><stop offset="0.72" stop-color="#FF3C3C" stop-opacity="0.65"/><stop offset="1" stop-color="#FF3C3C" stop-opacity="0"/></linearGradient></defs>
<rect x="168" y="391" width="40" height="1" fill="url(#ol)"/>
<rect x="232" y="388" width="38" height="1" fill="#C8FFC8"/>
<rect x="248" y="388" width="6" height="2" fill="#00FF00"/>
<rect x="298" y="383" width="38" height="1" fill="#00FF00"/>
<rect x="314" y="383" width="6" height="7" fill="#00FF00"/>
<rect x="364" y="389" width="41" height="1" fill="url(#rd)"/>
<rect x="430" y="391" width="38" height="1" fill="#C8FFC8"/>
<rect x="446" y="391" width="6" height="2" fill="#00FF00"/>
<rect x="496" y="386" width="38" height="1" fill="#80FF80"/>
<rect x="512" y="386" width="6" height="4" fill="#00FF00"/>
<rect x="562" y="383" width="38" height="1" fill="#00FF00"/>
<rect x="578" y="383" width="6" height="7" fill="#00FF00"/>
<rect x="628" y="383" width="38" height="1" fill="#00FF00"/>
<rect x="644" y="383" width="6" height="7" fill="#00FF00"/>
<rect x="696" y="391" width="40" height="1" fill="url(#ol)"/>
<rect x="760" y="382" width="38" height="1" fill="#00FF00"/>
<rect x="776" y="382" width="6" height="8" fill="#00FF00"/>
<text transform="translate(187.30 458) scale(1 1.11)" x="0" y="0" font-size="13" fill="#0C0C78" text-anchor="middle">C</text>
<text transform="translate(253.30 458) scale(1 1.11)" x="0" y="0" font-size="13" fill="#0C0C78" text-anchor="middle">A</text>
<text transform="translate(319.30 458) scale(1 1.11)" x="0" y="0" font-size="13" fill="#0C0C78" text-anchor="middle">T</text>
<text transform="translate(385.30 458) scale(1 1.11)" x="0" y="0" font-size="13" fill="#0C0C78" text-anchor="middle">A</text>
<text transform="translate(451.30 458) scale(1 1.11)" x="0" y="0" font-size="13" fill="#0C0C78" text-anchor="middle">T</text>
<text transform="translate(517.30 458) scale(1 1.11)" x="0" y="0" font-size="13" fill="#0C0C78" text-anchor="middle">T</text>
<text transform="translate(583.30 458) scale(1 1.11)" x="0" y="0" font-size="13" fill="#0C0C78" text-anchor="middle">T</text>
<text transform="translate(649.30 458) scale(1 1.11)" x="0" y="0" font-size="13" fill="#0C0C78" text-anchor="middle">T</text>
<text transform="translate(715.30 458) scale(1 1.11)" x="0" y="0" font-size="13" fill="#0C0C78" text-anchor="middle">C</text>
<text transform="translate(781.30 458) scale(1 1.11)" x="0" y="0" font-size="13" fill="#0C0C78" text-anchor="middle">T</text>
<text transform="translate(847.30 458) scale(1 1.11)" x="0" y="0" font-size="13" fill="#0C0C78" text-anchor="middle">C</text>
<text transform="translate(913.30 458) scale(1 1.11)" x="0" y="0" font-size="13" fill="#0C0C78" text-anchor="middle">A</text>
<text transform="translate(187.30 473) scale(1 1.11)" x="0" y="0" font-size="13" fill="#0C0C78" text-anchor="middle">C</text>
<text transform="translate(253.30 473) scale(1 1.11)" x="0" y="0" font-size="13" fill="#0C0C78" text-anchor="middle">A</text>
<text transform="translate(319.30 473) scale(1 1.11)" x="0" y="0" font-size="13" fill="#0C0C78" text-anchor="middle">T</text>
<text transform="translate(385.30 473) scale(1 1.11)" x="0" y="0" font-size="13" fill="#0C0C78" text-anchor="middle">A</text>
<text transform="translate(451.30 473) scale(1 1.11)" x="0" y="0" font-size="13" fill="#0C0C78" text-anchor="middle">T</text>
<text transform="translate(517.30 473) scale(1 1.11)" x="0" y="0" font-size="13" fill="#0C0C78" text-anchor="middle">T</text>
<text transform="translate(583.30 473) scale(1 1.11)" x="0" y="0" font-size="13" fill="#0C0C78" text-anchor="middle">T</text>
<text transform="translate(649.30 473) scale(1 1.11)" x="0" y="0" font-size="13" fill="#0C0C78" text-anchor="middle">T</text>
<text transform="translate(715.30 473) scale(1 1.11)" x="0" y="0" font-size="13" fill="#0C0C78" text-anchor="middle">C</text>
<text transform="translate(781.30 473) scale(1 1.11)" x="0" y="0" font-size="13" fill="#0C0C78" text-anchor="middle">T</text>
<text transform="translate(847.30 473) scale(1 1.11)" x="0" y="0" font-size="13" fill="#0C0C78" text-anchor="middle">C</text>
<text transform="translate(913.30 473) scale(1 1.11)" x="0" y="0" font-size="13" fill="#0C0C78" text-anchor="middle">A</text>
<text transform="translate(187.30 488) scale(1 1.11)" x="0" y="0" font-size="13" fill="#7C7CB4" text-anchor="middle">T</text>
<text transform="translate(253.30 488) scale(1 1.11)" x="0" y="0" font-size="13" fill="#7C7CB4" text-anchor="middle">T</text>
<text transform="translate(319.30 488) scale(1 1.11)" x="0" y="0" font-size="13" fill="#0C0C78" text-anchor="middle">T</text>
<text transform="translate(385.30 488) scale(1 1.11)" x="0" y="0" font-size="13" fill="#0C0C78" text-anchor="middle">A</text>
<text transform="translate(451.30 488) scale(1 1.11)" x="0" y="0" font-size="13" fill="#0C0C78" text-anchor="middle">T</text>
<text transform="translate(517.30 488) scale(1 1.11)" x="0" y="0" font-size="13" fill="#0C0C78" text-anchor="middle">T</text>
<text transform="translate(583.30 488) scale(1 1.11)" x="0" y="0" font-size="13" fill="#0C0C78" text-anchor="middle">T</text>
<text transform="translate(649.30 488) scale(1 1.11)" x="0" y="0" font-size="13" fill="#0C0C78" text-anchor="middle">T</text>
<text transform="translate(715.30 488) scale(1 1.11)" x="0" y="0" font-size="13" fill="#7C7CB4" text-anchor="middle">T</text>
<text transform="translate(781.30 488) scale(1 1.11)" x="0" y="0" font-size="13" fill="#0C0C78" text-anchor="middle">T</text>
<text transform="translate(847.30 488) scale(1 1.11)" x="0" y="0" font-size="13" fill="#0C0C78" text-anchor="middle">C</text>
<text transform="translate(913.30 488) scale(1 1.11)" x="0" y="0" font-size="13" fill="#0C0C78" text-anchor="middle">A</text>
<text transform="translate(187.30 503) scale(1 1.11)" x="0" y="0" font-size="13" fill="#0C0C78" text-anchor="middle">C</text>
<text transform="translate(253.30 503) scale(1 1.11)" x="0" y="0" font-size="13" fill="#7C7CB4" text-anchor="middle">T</text>
<text transform="translate(319.30 503) scale(1 1.11)" x="0" y="0" font-size="13" fill="#0C0C78" text-anchor="middle">T</text>
<text transform="translate(385.30 503) scale(1 1.11)" x="0" y="0" font-size="13" fill="#0C0C78" text-anchor="middle">A</text>
<text transform="translate(451.30 503) scale(1 1.11)" x="0" y="0" font-size="13" fill="#7C7CB4" text-anchor="middle">C</text>
<text transform="translate(517.30 503) scale(1 1.11)" x="0" y="0" font-size="13" fill="#0C0C78" text-anchor="middle">T</text>
<text transform="translate(583.30 503) scale(1 1.11)" x="0" y="0" font-size="13" fill="#0C0C78" text-anchor="middle">T</text>
<text transform="translate(649.30 503) scale(1 1.11)" x="0" y="0" font-size="13" fill="#0C0C78" text-anchor="middle">T</text>
<text transform="translate(715.30 503) scale(1 1.11)" x="0" y="0" font-size="13" fill="#0C0C78" text-anchor="middle">C</text>
<text transform="translate(781.30 503) scale(1 1.11)" x="0" y="0" font-size="13" fill="#0C0C78" text-anchor="middle">T</text>
<text transform="translate(847.30 503) scale(1 1.11)" x="0" y="0" font-size="13" fill="#0C0C78" text-anchor="middle">C</text>
<text transform="translate(913.30 503) scale(1 1.11)" x="0" y="0" font-size="13" fill="#0C0C78" text-anchor="middle">A</text>
<text transform="translate(187.30 518) scale(1 1.11)" x="0" y="0" font-size="13" fill="#0C0C78" text-anchor="middle">C</text>
<text transform="translate(253.30 518) scale(1 1.11)" x="0" y="0" font-size="13" fill="#7C7CB4" text-anchor="middle">T</text>
<text transform="translate(319.30 518) scale(1 1.11)" x="0" y="0" font-size="13" fill="#0C0C78" text-anchor="middle">T</text>
<text transform="translate(385.30 518) scale(1 1.11)" x="0" y="0" font-size="13" fill="#0C0C78" text-anchor="middle">A</text>
<text transform="translate(451.30 518) scale(1 1.11)" x="0" y="0" font-size="13" fill="#0C0C78" text-anchor="middle">T</text>
<text transform="translate(517.30 518) scale(1 1.11)" x="0" y="0" font-size="13" fill="#7C7CB4" text-anchor="middle">C</text>
<text transform="translate(583.30 518) scale(1 1.11)" x="0" y="0" font-size="13" fill="#0C0C78" text-anchor="middle">T</text>
<text transform="translate(649.30 518) scale(1 1.11)" x="0" y="0" font-size="13" fill="#0C0C78" text-anchor="middle">T</text>
<text transform="translate(715.30 518) scale(1 1.11)" x="0" y="0" font-size="13" fill="#0C0C78" text-anchor="middle">C</text>
<text transform="translate(781.30 518) scale(1 1.11)" x="0" y="0" font-size="13" fill="#0C0C78" text-anchor="middle">T</text>
<text transform="translate(847.30 518) scale(1 1.11)" x="0" y="0" font-size="13" fill="#0C0C78" text-anchor="middle">C</text>
<text transform="translate(913.30 518) scale(1 1.11)" x="0" y="0" font-size="13" fill="#0C0C78" text-anchor="middle">A</text>
<rect x="184" y="528" width="6" height="1" fill="#8282B4"/><rect x="184" y="531" width="6" height="1" fill="#8282B4"/>
<rect x="250" y="528" width="6" height="1" fill="#8282B4"/><rect x="250" y="531" width="6" height="1" fill="#8282B4"/>
<rect x="316" y="528" width="6" height="1" fill="#8282B4"/><rect x="316" y="531" width="6" height="1" fill="#8282B4"/>
<rect x="382" y="528" width="6" height="1" fill="#8282B4"/><rect x="382" y="531" width="6" height="1" fill="#8282B4"/>
<rect x="448" y="528" width="6" height="1" fill="#8282B4"/><rect x="448" y="531" width="6" height="1" fill="#8282B4"/>
<rect x="514" y="528" width="6" height="1" fill="#8282B4"/><rect x="514" y="531" width="6" height="1" fill="#8282B4"/>
<rect x="580" y="528" width="6" height="1" fill="#8282B4"/><rect x="580" y="531" width="6" height="1" fill="#8282B4"/>
<rect x="646" y="528" width="6" height="1" fill="#8282B4"/><rect x="646" y="531" width="6" height="1" fill="#8282B4"/>
<rect x="712" y="528" width="6" height="1" fill="#8282B4"/><rect x="712" y="531" width="6" height="1" fill="#8282B4"/>
<rect x="778" y="528" width="6" height="1" fill="#8282B4"/><rect x="778" y="531" width="6" height="1" fill="#8282B4"/>
<rect x="844" y="528" width="6" height="1" fill="#8282B4"/><rect x="844" y="531" width="6" height="1" fill="#8282B4"/>
<rect x="910" y="528" width="6" height="1" fill="#8282B4"/><rect x="910" y="531" width="6" height="1" fill="#8282B4"/>
<rect x="749" y="434" width="2" height="9" fill="#E08A00" fill-opacity="0.6"/>
<rect x="747" y="435" width="2" height="2" fill="#E08A00" fill-opacity="0.55"/>
<rect x="749" y="435" width="1" height="1" fill="#E08A00"/>
<rect x="750" y="475" width="1" height="14" fill="#E08A00"/></svg></body></html>
